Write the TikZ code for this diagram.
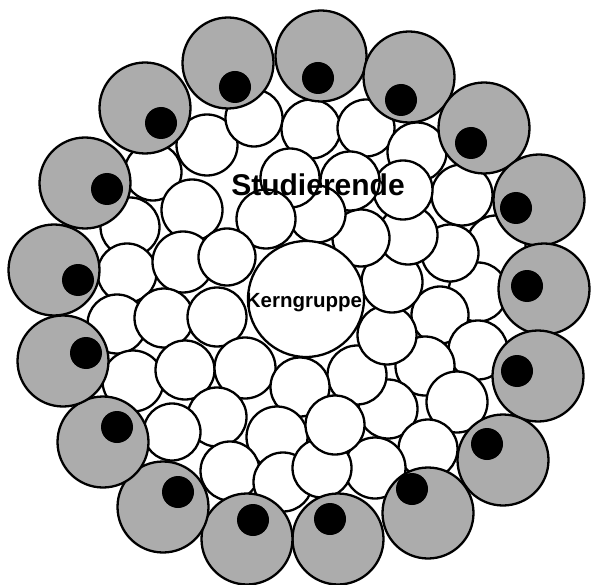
\documentclass[tikz,border=0pt]{standalone}
\usepackage{fontspec}
\setmainfont{Liberation Sans}
\definecolor{cellgray}{RGB}{172,172,172}
\begin{document}
\begin{tikzpicture}[x=1pt,y=-1pt,line width=2.3pt,
  whitecell/.style={draw=black,fill=white},
  outercell/.style={draw=black,fill=cellgray},
  nucleus/.style={fill=black},
  corecell/.style={draw=black,fill=white},
  bigtext/.style={font=\bfseries\fontsize{30}{30}\selectfont,inner sep=0pt},
  coretext/.style={font=\bfseries\fontsize{20.5}{20.5}\selectfont,inner sep=0pt}]
\useasboundingbox (0,0) rectangle (591,585);
% white cells (Studierende)
\foreach \x/\y/\r in {
  207/145/29, 153/172/27, 254/118/27, 311/129/28, 366/128/27, 417/152/28,
  462/195/29, 496/245/28, 478/292/28, 440/315/27, 478/350/28, 425/366/28,
  457/402/29, 388/409/28, 428/449/28, 375/468/29, 357/375/28, 387/335/28,
  392/282/29, 450/253/27, 408/235/28, 361/238/27, 403/190/28, 350/181/28,
  317/214/27, 290/178/28, 266/219/28, 192/210/29, 130/227/28, 127/273/28,
  183/262/29, 227/257/27, 117/324/28, 164/318/28, 217/317/28, 133/381/29,
  185/370/28, 245/368/29, 300/387/28, 217/417/28, 172/432/27, 277/437/29,
  230/471/28, 283/482/28, 322/468/28, 335/425/28}
  \draw[whitecell] (\x,\y) circle[radius=\r+1.5];
% core group
\draw[corecell] (306,299) circle[radius=58];
% outer grey cells with dark nuclei
\foreach \x/\y/\dx/\dy in {
  228/63/235/87, 321/56/318/78, 409/77/401/100, 484/128/471/143,
  539/200/516/208, 544/289/527/286, 538/376/517/371, 503/460/487/444,
  428/513/412/489, 338/539/330/519, 247/539/253/520, 163/507/178/492,
  103/442/117/427, 63/361/86/353, 54/270/78/280, 85/183/107/189,
  145/108/161/123}
{
  \draw[outercell] (\x,\y) circle[radius=45.5];
  \fill[nucleus] (\dx,\dy) circle[radius=16];
}
\node[bigtext] (stud) at (318,185) {Studierende};
\node[coretext] (kern) at (304,303) {Kerngruppe};
\end{tikzpicture}
\end{document}
